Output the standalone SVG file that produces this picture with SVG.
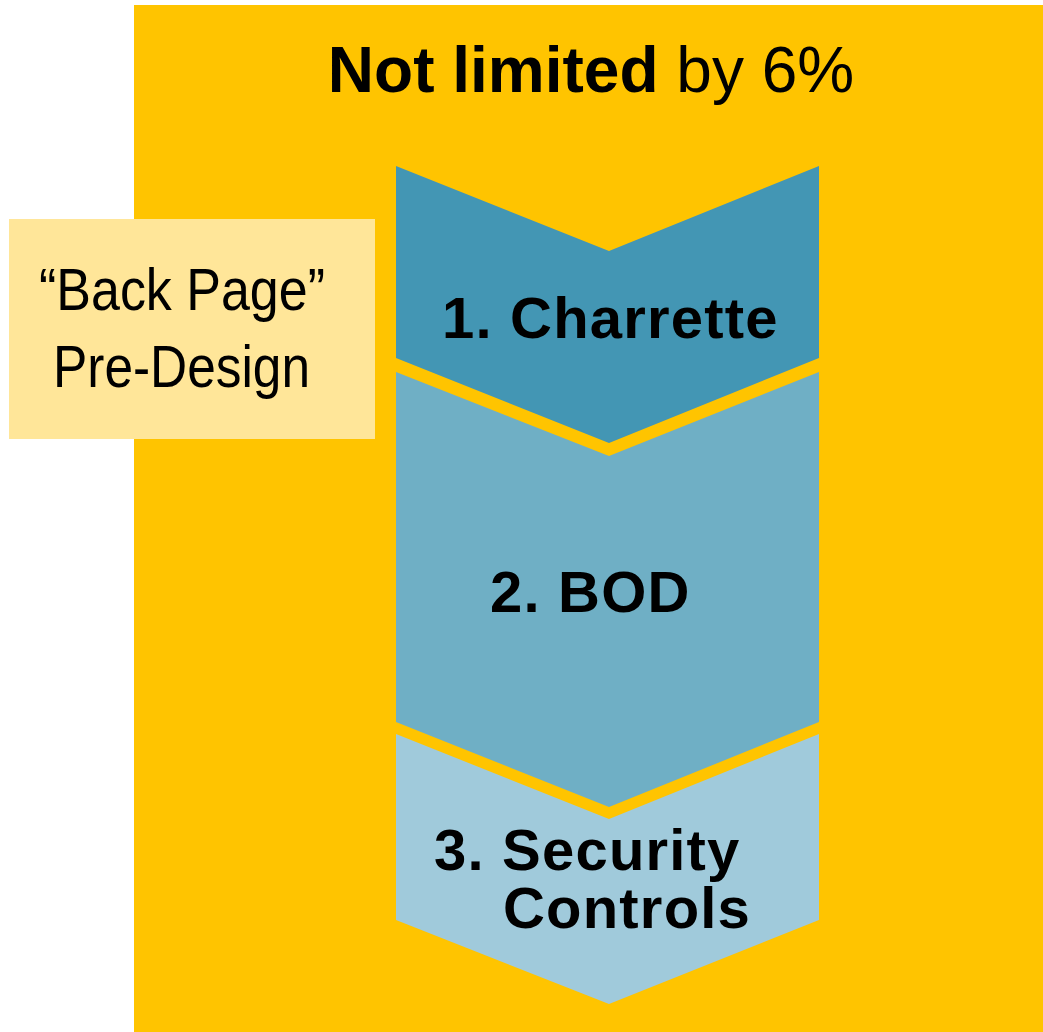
<svg xmlns="http://www.w3.org/2000/svg" width="1043" height="1032" viewBox="0 0 1043 1032">
  <style>
    .title { font-family: "Liberation Sans", Arial, sans-serif; font-size: 64px; fill: #000; }
    .step { font-family: "Liberation Sans", Arial, sans-serif; font-size: 58px; font-weight: bold; letter-spacing: 1.2px; fill: #000; }
    .note { font-family: "Liberation Sans", Arial, sans-serif; font-size: 60px; fill: #000; }
  </style>
  <rect x="0" y="0" width="1043" height="1032" fill="#FFFFFF"/>

  <!-- background panel -->
  <g id="panel">
    <rect x="134" y="5" width="909" height="1027" fill="#FFC400"/>
    <text class="title" x="591" y="92" text-anchor="middle"><tspan font-weight="bold">Not limited</tspan> by 6%</text>
  </g>

  <!-- stacked chevron steps -->
  <g id="step1">
    <polygon points="396,166 609,251 819,166 819,358 609,443 396,358" fill="#4396B4"/>
    <text class="step" x="442" y="338">1. Charrette</text>
  </g>
  <g id="step2">
    <polygon points="396,372 609,456 819,372 819,722 609,807 396,722" fill="#6FAFC5"/>
    <text class="step" x="490" y="612">2. BOD</text>
  </g>
  <g id="step3">
    <polygon points="396,734 609,819 819,734 819,920 609,1004 396,920" fill="#A0CADB"/>
    <text class="step"><tspan x="434" y="870">3. Security</tspan><tspan x="503" y="928">Controls</tspan></text>
  </g>

  <!-- side label -->
  <g id="backpage">
    <rect x="9" y="219" width="366" height="220" fill="#FFE699"/>
    <text class="note" x="39" y="310" textLength="286" lengthAdjust="spacingAndGlyphs">“Back Page”</text>
    <text class="note" x="53" y="387" textLength="257" lengthAdjust="spacingAndGlyphs">Pre-Design</text>
  </g>

  <g id="connectors"></g>
</svg>
